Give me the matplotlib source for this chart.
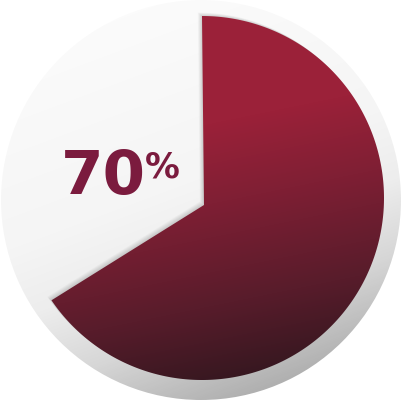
import numpy as np
import matplotlib.pyplot as plt
from matplotlib.patches import Circle, Polygon
from matplotlib.colors import LinearSegmentedColormap

# chart values
label_value = 70          # printed label
wedge_fraction = 0.655    # share of the circle covered by the wedge, as drawn
label_text = f"{label_value}"
label_suffix = "%"

W, H = 404, 402
fig = plt.figure(figsize=(W / 100, H / 100), dpi=100)
ax = fig.add_axes([0, 0, 1, 1])
ax.set_xlim(0, W)
ax.set_ylim(H, 0)
ax.set_aspect('equal')
ax.axis('off')

yy, xx = np.mgrid[0:H, 0:W] + 0.5

# background disc with soft grey gradient
bg_c, bg_r = (201, 201), 200
u = ((xx - bg_c[0]) * 0.35 + (yy - bg_c[1]) * 0.94) / bg_r
bg_cmap = LinearSegmentedColormap.from_list(
    'bg', [(0.0, '#fbfbfb'), (0.45, '#f5f5f5'), (0.62, '#ededed'),
           (0.8, '#d6d6d6'), (1.0, '#b0b0b0')])
disc = Circle(bg_c, bg_r, facecolor='none', edgecolor='none')
ax.add_patch(disc)
im = ax.imshow((u + 1) / 2, cmap=bg_cmap, vmin=0, vmax=1,
               extent=[0, W, H, 0], interpolation='bilinear', zorder=0)
im.set_clip_path(disc)

# wedge outline: apex plus arc, clockwise from 12 o'clock
w_c, w_r = (202, 199), 182
apex = (204, 206)
ang = np.radians(np.linspace(-90, -90 + 360 * wedge_fraction, 300))
arc = np.column_stack([w_c[0] + w_r * np.cos(ang), w_c[1] + w_r * np.sin(ang)])
verts = np.vstack([apex, arc])

# soft shadow under the wedge
for off in np.linspace(1, 7, 7):
    sh = Polygon(verts + [-off * 0.6, -off * 0.5], closed=True,
                 facecolor='black', edgecolor='none', alpha=0.025, zorder=1)
    sh.set_clip_path(disc)
    ax.add_patch(sh)

wedge = Polygon(verts, closed=True, facecolor='none', edgecolor='none')
ax.add_patch(wedge)
t = ((yy - 125) * 0.97 + (xx - 204) * 0.2) / 262
w_cmap = LinearSegmentedColormap.from_list(
    'wedge', [(0.0, '#9b2139'), (0.3, '#7f1f34'), (0.68, '#581c2b'),
              (1.0, '#33171f')])
im2 = ax.imshow(np.clip(t, 0, 1), cmap=w_cmap, vmin=0, vmax=1,
                extent=[0, W, H, 0], interpolation='bilinear', zorder=2)
im2.set_clip_path(wedge)

# label
ax.text(61, 194, label_text, fontsize=44, fontweight='bold', color='#7b1b3e',
        family='DejaVu Sans', ha='left', va='baseline', zorder=3)
ax.text(145, 178, label_suffix, fontsize=25, fontweight='bold', color='#7b1b3e',
        family='DejaVu Sans', ha='left', va='baseline', zorder=3)

fig.savefig('out.png', dpi=100, transparent=True)
